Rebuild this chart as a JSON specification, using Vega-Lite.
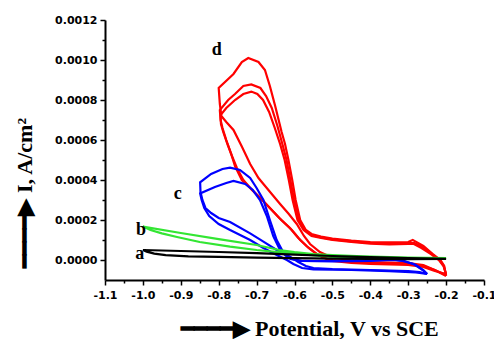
{
  "$schema": "https://vega.github.io/schema/vega-lite/v6.json",
  "width": 379,
  "height": 260,
  "autosize": "none",
  "padding": {"left": 105, "top": 20, "right": 10, "bottom": 59},
  "background": "white",
  "config": {"view": {"stroke": null}},
  "datasets": {
    "cv": [
      {"s":"a","c":1,"i":0,"x":-1.0,"y":0.00005},
      {"s":"a","c":1,"i":1,"x":-0.9,"y":0.000045},
      {"s":"a","c":1,"i":2,"x":-0.8,"y":0.00004},
      {"s":"a","c":1,"i":3,"x":-0.7,"y":0.000034},
      {"s":"a","c":1,"i":4,"x":-0.6,"y":0.000027},
      {"s":"a","c":1,"i":5,"x":-0.5,"y":0.00002},
      {"s":"a","c":1,"i":6,"x":-0.4,"y":0.000014},
      {"s":"a","c":1,"i":7,"x":-0.3,"y":0.00001},
      {"s":"a","c":1,"i":8,"x":-0.2,"y":0.000006},
      {"s":"a","c":1,"i":9,"x":-0.3,"y":0.000004},
      {"s":"a","c":1,"i":10,"x":-0.4,"y":0.000005},
      {"s":"a","c":1,"i":11,"x":-0.5,"y":0.000007},
      {"s":"a","c":1,"i":12,"x":-0.6,"y":0.000009},
      {"s":"a","c":1,"i":13,"x":-0.7,"y":0.000012},
      {"s":"a","c":1,"i":14,"x":-0.8,"y":0.000016},
      {"s":"a","c":1,"i":15,"x":-0.88,"y":0.000018},
      {"s":"a","c":1,"i":16,"x":-0.94,"y":0.000024},
      {"s":"a","c":1,"i":17,"x":-0.97,"y":0.000032},
      {"s":"a","c":1,"i":18,"x":-0.99,"y":0.000042},
      {"s":"a","c":1,"i":19,"x":-1.0,"y":0.00005},

      {"s":"b","c":1,"i":0,"x":-1.0,"y":0.000167},
      {"s":"b","c":1,"i":1,"x":-0.9,"y":0.000135},
      {"s":"b","c":1,"i":2,"x":-0.8,"y":0.000104},
      {"s":"b","c":1,"i":3,"x":-0.7,"y":0.000075},
      {"s":"b","c":1,"i":4,"x":-0.64,"y":0.00005},
      {"s":"b","c":1,"i":5,"x":-0.6,"y":0.00004},
      {"s":"b","c":1,"i":6,"x":-0.55,"y":0.00003},
      {"s":"b","c":1,"i":7,"x":-0.5,"y":0.000025},
      {"s":"b","c":1,"i":8,"x":-0.42,"y":0.000018},
      {"s":"b","c":1,"i":9,"x":-0.3,"y":0.000012},
      {"s":"b","c":1,"i":10,"x":-0.2,"y":0.00001},
      {"s":"b","c":1,"i":11,"x":-0.3,"y":0.000008},
      {"s":"b","c":1,"i":12,"x":-0.4,"y":0.000011},
      {"s":"b","c":1,"i":13,"x":-0.5,"y":0.000016},
      {"s":"b","c":1,"i":14,"x":-0.61,"y":0.000033},
      {"s":"b","c":1,"i":15,"x":-0.7,"y":0.00005},
      {"s":"b","c":1,"i":16,"x":-0.77,"y":0.000067},
      {"s":"b","c":1,"i":17,"x":-0.85,"y":0.00009},
      {"s":"b","c":1,"i":18,"x":-0.91,"y":0.000115},
      {"s":"b","c":1,"i":19,"x":-0.95,"y":0.000133},
      {"s":"b","c":1,"i":20,"x":-0.98,"y":0.00015},
      {"s":"b","c":1,"i":21,"x":-1.0,"y":0.000167},

      {"s":"c","c":1,"i":0,"x":-0.25,"y":-0.00007},
      {"s":"c","c":1,"i":1,"x":-0.26,"y":-0.00005},
      {"s":"c","c":1,"i":2,"x":-0.28,"y":-0.000025},
      {"s":"c","c":1,"i":3,"x":-0.31,"y":-0.000005},
      {"s":"c","c":1,"i":4,"x":-0.34,"y":0.000003},
      {"s":"c","c":1,"i":5,"x":-0.37,"y":0.0},
      {"s":"c","c":1,"i":6,"x":-0.45,"y":-0.000003},
      {"s":"c","c":1,"i":7,"x":-0.55,"y":-0.000005},
      {"s":"c","c":1,"i":8,"x":-0.59,"y":-0.000003},
      {"s":"c","c":1,"i":9,"x":-0.61,"y":0.000005},
      {"s":"c","c":1,"i":10,"x":-0.62,"y":0.00002},
      {"s":"c","c":1,"i":11,"x":-0.63,"y":0.00004},
      {"s":"c","c":1,"i":12,"x":-0.647,"y":0.0001},
      {"s":"c","c":1,"i":13,"x":-0.665,"y":0.0002},
      {"s":"c","c":1,"i":14,"x":-0.682,"y":0.0003},
      {"s":"c","c":1,"i":15,"x":-0.7,"y":0.00036},
      {"s":"c","c":1,"i":16,"x":-0.717,"y":0.00041},
      {"s":"c","c":1,"i":17,"x":-0.744,"y":0.00045},
      {"s":"c","c":1,"i":18,"x":-0.77,"y":0.000462},
      {"s":"c","c":1,"i":19,"x":-0.79,"y":0.000455},
      {"s":"c","c":1,"i":20,"x":-0.82,"y":0.00043},
      {"s":"c","c":1,"i":21,"x":-0.849,"y":0.000388},
      {"s":"c","c":1,"i":22,"x":-0.848,"y":0.00034},
      {"s":"c","c":1,"i":23,"x":-0.843,"y":0.0003},
      {"s":"c","c":1,"i":24,"x":-0.835,"y":0.00026},
      {"s":"c","c":1,"i":25,"x":-0.82,"y":0.000235},
      {"s":"c","c":1,"i":26,"x":-0.8,"y":0.00021},
      {"s":"c","c":1,"i":27,"x":-0.77,"y":0.00019},
      {"s":"c","c":1,"i":28,"x":-0.717,"y":0.000133},
      {"s":"c","c":1,"i":29,"x":-0.682,"y":0.000092},
      {"s":"c","c":1,"i":30,"x":-0.647,"y":0.00005},
      {"s":"c","c":1,"i":31,"x":-0.612,"y":0.000017},
      {"s":"c","c":1,"i":32,"x":-0.59,"y":-0.00001},
      {"s":"c","c":1,"i":33,"x":-0.57,"y":-0.00003},
      {"s":"c","c":1,"i":34,"x":-0.55,"y":-0.00004},
      {"s":"c","c":1,"i":35,"x":-0.5,"y":-0.000045},
      {"s":"c","c":1,"i":36,"x":-0.4,"y":-0.00005},
      {"s":"c","c":1,"i":37,"x":-0.3,"y":-0.000055},
      {"s":"c","c":1,"i":38,"x":-0.27,"y":-0.00006},
      {"s":"c","c":1,"i":39,"x":-0.25,"y":-0.00007},

      {"s":"c","c":2,"i":0,"x":-0.25,"y":-0.00007},
      {"s":"c","c":2,"i":1,"x":-0.262,"y":-0.00005},
      {"s":"c","c":2,"i":2,"x":-0.285,"y":-0.00002},
      {"s":"c","c":2,"i":3,"x":-0.315,"y":-0.000005},
      {"s":"c","c":2,"i":4,"x":-0.34,"y":0.0},
      {"s":"c","c":2,"i":5,"x":-0.4,"y":-0.000005},
      {"s":"c","c":2,"i":6,"x":-0.5,"y":-0.000007},
      {"s":"c","c":2,"i":7,"x":-0.58,"y":-0.000005},
      {"s":"c","c":2,"i":8,"x":-0.6,"y":0.000003},
      {"s":"c","c":2,"i":9,"x":-0.615,"y":0.00001},
      {"s":"c","c":2,"i":10,"x":-0.625,"y":0.000025},
      {"s":"c","c":2,"i":11,"x":-0.638,"y":0.00005},
      {"s":"c","c":2,"i":12,"x":-0.656,"y":0.00012},
      {"s":"c","c":2,"i":13,"x":-0.673,"y":0.00022},
      {"s":"c","c":2,"i":14,"x":-0.691,"y":0.0003},
      {"s":"c","c":2,"i":15,"x":-0.71,"y":0.00035},
      {"s":"c","c":2,"i":16,"x":-0.73,"y":0.00038},
      {"s":"c","c":2,"i":17,"x":-0.761,"y":0.000395},
      {"s":"c","c":2,"i":18,"x":-0.78,"y":0.000385},
      {"s":"c","c":2,"i":19,"x":-0.81,"y":0.000365},
      {"s":"c","c":2,"i":20,"x":-0.849,"y":0.000333},
      {"s":"c","c":2,"i":21,"x":-0.845,"y":0.0003},
      {"s":"c","c":2,"i":22,"x":-0.838,"y":0.00026},
      {"s":"c","c":2,"i":23,"x":-0.825,"y":0.00022},
      {"s":"c","c":2,"i":24,"x":-0.8,"y":0.00018},
      {"s":"c","c":2,"i":25,"x":-0.77,"y":0.00015},
      {"s":"c","c":2,"i":26,"x":-0.717,"y":0.0001},
      {"s":"c","c":2,"i":27,"x":-0.682,"y":0.00006},
      {"s":"c","c":2,"i":28,"x":-0.647,"y":0.000025},
      {"s":"c","c":2,"i":29,"x":-0.62,"y":0.0},
      {"s":"c","c":2,"i":30,"x":-0.603,"y":-0.00002},
      {"s":"c","c":2,"i":31,"x":-0.58,"y":-0.00004},
      {"s":"c","c":2,"i":32,"x":-0.55,"y":-0.000047},
      {"s":"c","c":2,"i":33,"x":-0.45,"y":-0.00005},
      {"s":"c","c":2,"i":34,"x":-0.35,"y":-0.000056},
      {"s":"c","c":2,"i":35,"x":-0.28,"y":-0.000062},
      {"s":"c","c":2,"i":36,"x":-0.25,"y":-0.00007},

      {"s":"d","c":1,"i":0,"x":-0.2,"y":-0.00008},
      {"s":"d","c":1,"i":1,"x":-0.205,"y":-0.00003},
      {"s":"d","c":1,"i":2,"x":-0.215,"y":0.0},
      {"s":"d","c":1,"i":3,"x":-0.235,"y":0.00003},
      {"s":"d","c":1,"i":4,"x":-0.26,"y":0.00007},
      {"s":"d","c":1,"i":5,"x":-0.28,"y":0.000092},
      {"s":"d","c":1,"i":6,"x":-0.288,"y":0.0001},
      {"s":"d","c":1,"i":7,"x":-0.3,"y":0.00009},
      {"s":"d","c":1,"i":8,"x":-0.35,"y":0.000088},
      {"s":"d","c":1,"i":9,"x":-0.4,"y":0.00009},
      {"s":"d","c":1,"i":10,"x":-0.45,"y":0.000097},
      {"s":"d","c":1,"i":11,"x":-0.5,"y":0.000107},
      {"s":"d","c":1,"i":12,"x":-0.53,"y":0.000117},
      {"s":"d","c":1,"i":13,"x":-0.555,"y":0.00013},
      {"s":"d","c":1,"i":14,"x":-0.57,"y":0.00015},
      {"s":"d","c":1,"i":15,"x":-0.585,"y":0.0002},
      {"s":"d","c":1,"i":16,"x":-0.597,"y":0.0003},
      {"s":"d","c":1,"i":17,"x":-0.606,"y":0.0004},
      {"s":"d","c":1,"i":18,"x":-0.616,"y":0.0005},
      {"s":"d","c":1,"i":19,"x":-0.625,"y":0.00058},
      {"s":"d","c":1,"i":20,"x":-0.634,"y":0.00064},
      {"s":"d","c":1,"i":21,"x":-0.651,"y":0.00077},
      {"s":"d","c":1,"i":22,"x":-0.665,"y":0.00087},
      {"s":"d","c":1,"i":23,"x":-0.678,"y":0.00095},
      {"s":"d","c":1,"i":24,"x":-0.695,"y":0.00099},
      {"s":"d","c":1,"i":25,"x":-0.722,"y":0.00101},
      {"s":"d","c":1,"i":26,"x":-0.739,"y":0.00099},
      {"s":"d","c":1,"i":27,"x":-0.761,"y":0.00093},
      {"s":"d","c":1,"i":28,"x":-0.8,"y":0.00086},
      {"s":"d","c":1,"i":29,"x":-0.797,"y":0.00078},
      {"s":"d","c":1,"i":30,"x":-0.793,"y":0.00072},
      {"s":"d","c":1,"i":31,"x":-0.78,"y":0.00069},
      {"s":"d","c":1,"i":32,"x":-0.761,"y":0.00065},
      {"s":"d","c":1,"i":33,"x":-0.739,"y":0.000567},
      {"s":"d","c":1,"i":34,"x":-0.717,"y":0.00048},
      {"s":"d","c":1,"i":35,"x":-0.695,"y":0.00041},
      {"s":"d","c":1,"i":36,"x":-0.682,"y":0.00038},
      {"s":"d","c":1,"i":37,"x":-0.66,"y":0.00033},
      {"s":"d","c":1,"i":38,"x":-0.638,"y":0.00028},
      {"s":"d","c":1,"i":39,"x":-0.615,"y":0.00023},
      {"s":"d","c":1,"i":40,"x":-0.594,"y":0.00018},
      {"s":"d","c":1,"i":41,"x":-0.575,"y":0.00012},
      {"s":"d","c":1,"i":42,"x":-0.559,"y":0.00008},
      {"s":"d","c":1,"i":43,"x":-0.533,"y":0.00004},
      {"s":"d","c":1,"i":44,"x":-0.51,"y":0.00002},
      {"s":"d","c":1,"i":45,"x":-0.49,"y":0.00001},
      {"s":"d","c":1,"i":46,"x":-0.45,"y":-0.000003},
      {"s":"d","c":1,"i":47,"x":-0.4,"y":-0.00001},
      {"s":"d","c":1,"i":48,"x":-0.3,"y":-0.000015},
      {"s":"d","c":1,"i":49,"x":-0.26,"y":-0.000025},
      {"s":"d","c":1,"i":50,"x":-0.23,"y":-0.00005},
      {"s":"d","c":1,"i":51,"x":-0.2,"y":-0.00008},

      {"s":"d","c":2,"i":0,"x":-0.2,"y":-0.000075},
      {"s":"d","c":2,"i":1,"x":-0.206,"y":-0.00003},
      {"s":"d","c":2,"i":2,"x":-0.217,"y":0.0},
      {"s":"d","c":2,"i":3,"x":-0.237,"y":0.00003},
      {"s":"d","c":2,"i":4,"x":-0.262,"y":0.000065},
      {"s":"d","c":2,"i":5,"x":-0.283,"y":0.000085},
      {"s":"d","c":2,"i":6,"x":-0.3,"y":0.000085},
      {"s":"d","c":2,"i":7,"x":-0.35,"y":0.000083},
      {"s":"d","c":2,"i":8,"x":-0.4,"y":0.000086},
      {"s":"d","c":2,"i":9,"x":-0.45,"y":0.000093},
      {"s":"d","c":2,"i":10,"x":-0.5,"y":0.000103},
      {"s":"d","c":2,"i":11,"x":-0.53,"y":0.000113},
      {"s":"d","c":2,"i":12,"x":-0.555,"y":0.000125},
      {"s":"d","c":2,"i":13,"x":-0.573,"y":0.00015},
      {"s":"d","c":2,"i":14,"x":-0.588,"y":0.0002},
      {"s":"d","c":2,"i":15,"x":-0.601,"y":0.0003},
      {"s":"d","c":2,"i":16,"x":-0.611,"y":0.0004},
      {"s":"d","c":2,"i":17,"x":-0.621,"y":0.0005},
      {"s":"d","c":2,"i":18,"x":-0.632,"y":0.00058},
      {"s":"d","c":2,"i":19,"x":-0.645,"y":0.00067},
      {"s":"d","c":2,"i":20,"x":-0.66,"y":0.00076},
      {"s":"d","c":2,"i":21,"x":-0.675,"y":0.00082},
      {"s":"d","c":2,"i":22,"x":-0.69,"y":0.00086},
      {"s":"d","c":2,"i":23,"x":-0.714,"y":0.000878},
      {"s":"d","c":2,"i":24,"x":-0.735,"y":0.00087},
      {"s":"d","c":2,"i":25,"x":-0.757,"y":0.00083},
      {"s":"d","c":2,"i":26,"x":-0.775,"y":0.0008},
      {"s":"d","c":2,"i":27,"x":-0.797,"y":0.00075},
      {"s":"d","c":2,"i":28,"x":-0.795,"y":0.0007},
      {"s":"d","c":2,"i":29,"x":-0.79,"y":0.00066},
      {"s":"d","c":2,"i":30,"x":-0.78,"y":0.0006},
      {"s":"d","c":2,"i":31,"x":-0.767,"y":0.00053},
      {"s":"d","c":2,"i":32,"x":-0.757,"y":0.00047},
      {"s":"d","c":2,"i":33,"x":-0.739,"y":0.0004},
      {"s":"d","c":2,"i":34,"x":-0.717,"y":0.00036},
      {"s":"d","c":2,"i":35,"x":-0.69,"y":0.00031},
      {"s":"d","c":2,"i":36,"x":-0.665,"y":0.00026},
      {"s":"d","c":2,"i":37,"x":-0.64,"y":0.00021},
      {"s":"d","c":2,"i":38,"x":-0.612,"y":0.00016},
      {"s":"d","c":2,"i":39,"x":-0.59,"y":0.00011},
      {"s":"d","c":2,"i":40,"x":-0.568,"y":0.00007},
      {"s":"d","c":2,"i":41,"x":-0.541,"y":0.00003},
      {"s":"d","c":2,"i":42,"x":-0.52,"y":0.00001},
      {"s":"d","c":2,"i":43,"x":-0.5,"y":0.0},
      {"s":"d","c":2,"i":44,"x":-0.45,"y":-0.00001},
      {"s":"d","c":2,"i":45,"x":-0.4,"y":-0.000016},
      {"s":"d","c":2,"i":46,"x":-0.3,"y":-0.00002},
      {"s":"d","c":2,"i":47,"x":-0.26,"y":-0.00003},
      {"s":"d","c":2,"i":48,"x":-0.23,"y":-0.00005},
      {"s":"d","c":2,"i":49,"x":-0.2,"y":-0.000075},

      {"s":"d","c":3,"i":0,"x":-0.2,"y":-0.00007},
      {"s":"d","c":3,"i":1,"x":-0.207,"y":-0.00003},
      {"s":"d","c":3,"i":2,"x":-0.219,"y":0.0},
      {"s":"d","c":3,"i":3,"x":-0.24,"y":0.00003},
      {"s":"d","c":3,"i":4,"x":-0.265,"y":0.00006},
      {"s":"d","c":3,"i":5,"x":-0.285,"y":0.00008},
      {"s":"d","c":3,"i":6,"x":-0.3,"y":0.00008},
      {"s":"d","c":3,"i":7,"x":-0.35,"y":0.000078},
      {"s":"d","c":3,"i":8,"x":-0.4,"y":0.000082},
      {"s":"d","c":3,"i":9,"x":-0.45,"y":0.00009},
      {"s":"d","c":3,"i":10,"x":-0.5,"y":0.0001},
      {"s":"d","c":3,"i":11,"x":-0.53,"y":0.00011},
      {"s":"d","c":3,"i":12,"x":-0.555,"y":0.00012},
      {"s":"d","c":3,"i":13,"x":-0.576,"y":0.00015},
      {"s":"d","c":3,"i":14,"x":-0.592,"y":0.0002},
      {"s":"d","c":3,"i":15,"x":-0.605,"y":0.0003},
      {"s":"d","c":3,"i":16,"x":-0.615,"y":0.0004},
      {"s":"d","c":3,"i":17,"x":-0.626,"y":0.0005},
      {"s":"d","c":3,"i":18,"x":-0.638,"y":0.00058},
      {"s":"d","c":3,"i":19,"x":-0.652,"y":0.00066},
      {"s":"d","c":3,"i":20,"x":-0.667,"y":0.00074},
      {"s":"d","c":3,"i":21,"x":-0.683,"y":0.0008},
      {"s":"d","c":3,"i":22,"x":-0.698,"y":0.00083},
      {"s":"d","c":3,"i":23,"x":-0.714,"y":0.000842},
      {"s":"d","c":3,"i":24,"x":-0.735,"y":0.00083},
      {"s":"d","c":3,"i":25,"x":-0.757,"y":0.0008},
      {"s":"d","c":3,"i":26,"x":-0.78,"y":0.00076},
      {"s":"d","c":3,"i":27,"x":-0.795,"y":0.000725},
      {"s":"d","c":3,"i":28,"x":-0.794,"y":0.00068},
      {"s":"d","c":3,"i":29,"x":-0.788,"y":0.00064},
      {"s":"d","c":3,"i":30,"x":-0.777,"y":0.00058},
      {"s":"d","c":3,"i":31,"x":-0.765,"y":0.00052},
      {"s":"d","c":3,"i":32,"x":-0.752,"y":0.00046},
      {"s":"d","c":3,"i":33,"x":-0.735,"y":0.0004},
      {"s":"d","c":3,"i":34,"x":-0.712,"y":0.00035},
      {"s":"d","c":3,"i":35,"x":-0.685,"y":0.0003},
      {"s":"d","c":3,"i":36,"x":-0.66,"y":0.00025},
      {"s":"d","c":3,"i":37,"x":-0.635,"y":0.0002},
      {"s":"d","c":3,"i":38,"x":-0.607,"y":0.00015},
      {"s":"d","c":3,"i":39,"x":-0.585,"y":0.0001},
      {"s":"d","c":3,"i":40,"x":-0.563,"y":0.00006},
      {"s":"d","c":3,"i":41,"x":-0.538,"y":0.000025},
      {"s":"d","c":3,"i":42,"x":-0.515,"y":0.000005},
      {"s":"d","c":3,"i":43,"x":-0.5,"y":-0.000005},
      {"s":"d","c":3,"i":44,"x":-0.45,"y":-0.000015},
      {"s":"d","c":3,"i":45,"x":-0.4,"y":-0.00002},
      {"s":"d","c":3,"i":46,"x":-0.3,"y":-0.000025},
      {"s":"d","c":3,"i":47,"x":-0.26,"y":-0.000035},
      {"s":"d","c":3,"i":48,"x":-0.23,"y":-0.000055},
      {"s":"d","c":3,"i":49,"x":-0.2,"y":-0.00007}
    ],
    "lab": [
      {"t":"a","x":-1.008,"y":0.000003},
      {"t":"b","x":-1.005,"y":0.000125},
      {"t":"c","x":-0.908,"y":0.000305},
      {"t":"d","x":-0.805,"y":0.001025}
    ]
  },
  "encoding": {
    "x": {
      "field": "x", "type": "quantitative",
      "scale": {"domain": [-1.1, -0.1], "nice": false, "zero": false},
      "axis": {
        "values": [-1.1,-1.05,-1.0,-0.95,-0.9,-0.85,-0.8,-0.75,-0.7,-0.65,-0.6,-0.55,-0.5,-0.45,-0.4,-0.35,-0.3,-0.25,-0.2,-0.15,-0.1],
        "labelExpr": "abs(round(datum.value*100)) % 10 == 0 ? '-' + format(abs(datum.value), '.1f') : ''",
        "tickSize": {"condition": {"test": "abs(round(datum.value*100)) % 10 == 0", "value": 5}, "value": 3},
        "grid": false,
        "domainColor": "#000", "domainWidth": 2,
        "tickColor": "#000", "tickWidth": 1.5,
        "labelFont": "DejaVu Sans", "labelFontWeight": "bold", "labelFontSize": 11, "labelColor": "#000",
        "labelPadding": 4, "labelFlush": false, "labelOverlap": false, "labelBound": false,
        "title": "━━━━▶ Potential, V vs SCE",
        "titleFont": "Liberation Serif", "titleFontSize": 22, "titleFontWeight": "bold", "titleColor": "#000",
        "titleAlign": "left", "titleAngle": 0, "titleX": 75, "titleY": 48, "titleBaseline": "middle"
      }
    },
    "y": {
      "field": "y", "type": "quantitative",
      "scale": {"domain": [-0.0001, 0.0012], "nice": false, "zero": false},
      "axis": {
        "values": [0,0.0001,0.0002,0.0003,0.0004,0.0005,0.0006,0.0007,0.0008,0.0009,0.001,0.0011,0.0012],
        "labelExpr": "round(datum.value*10000) % 2 == 0 ? format(datum.value, '.4f') : ''",
        "tickSize": {"condition": {"test": "round(datum.value*10000) % 2 == 0", "value": 5}, "value": 3},
        "grid": false,
        "domainColor": "#000", "domainWidth": 2,
        "tickColor": "#000", "tickWidth": 1.5,
        "labelFont": "DejaVu Sans", "labelFontWeight": "bold", "labelFontSize": 11, "labelColor": "#000",
        "labelPadding": 3, "labelFlush": false, "labelOverlap": false, "labelBound": false,
        "title": "━━━━▶ I, A/cm²",
        "titleFont": "Liberation Serif", "titleFontSize": 22, "titleFontWeight": "bold", "titleColor": "#000",
        "titleAlign": "left", "titleAngle": 270, "titleX": -81, "titleY": 247, "titleBaseline": "middle"
      }
    }
  },
  "layer": [
    {"data": {"name": "cv"}, "transform": [{"filter": "datum.s == 'd'"}],
     "mark": {"type": "line", "color": "#ff0000", "strokeWidth": 2.2},
     "encoding": {"detail": {"field": "c", "type": "nominal"}, "order": {"field": "i", "type": "quantitative"}}},
    {"data": {"name": "cv"}, "transform": [{"filter": "datum.s == 'c'"}],
     "mark": {"type": "line", "color": "#0000ff", "strokeWidth": 2.2},
     "encoding": {"detail": {"field": "c", "type": "nominal"}, "order": {"field": "i", "type": "quantitative"}}},
    {"data": {"name": "cv"}, "transform": [{"filter": "datum.s == 'b'"}],
     "mark": {"type": "line", "color": "#33e633", "strokeWidth": 2.2},
     "encoding": {"detail": {"field": "c", "type": "nominal"}, "order": {"field": "i", "type": "quantitative"}}},
    {"data": {"name": "cv"}, "transform": [{"filter": "datum.s == 'a'"}],
     "mark": {"type": "line", "color": "#000000", "strokeWidth": 2.2},
     "encoding": {"detail": {"field": "c", "type": "nominal"}, "order": {"field": "i", "type": "quantitative"}}},
    {"data": {"name": "lab"},
     "mark": {"type": "text", "font": "Liberation Serif", "fontSize": 18, "fontWeight": "bold", "color": "#000", "align": "center", "baseline": "alphabetic"},
     "encoding": {"text": {"field": "t", "type": "nominal"}}}
  ]
}
